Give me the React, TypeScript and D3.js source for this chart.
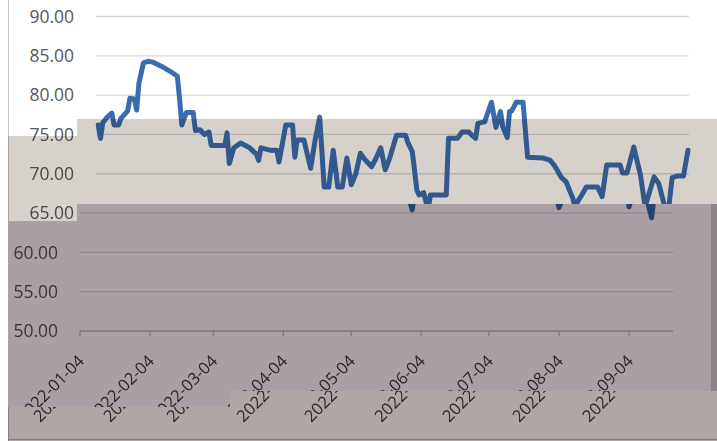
import React from "react";
import * as d3 from "d3";

// ---- data ----
const dates: string[] = [
  "2022-01-05","2022-01-06","2022-01-07","2022-01-09","2022-01-11","2022-01-12","2022-01-14","2022-01-15","2022-01-18","2022-01-19","2022-01-21","2022-01-22","2022-01-23","2022-01-25","2022-01-27","2022-01-29",
  "2022-02-03","2022-02-06","2022-02-09","2022-02-10","2022-02-11","2022-02-13","2022-02-16","2022-02-17","2022-02-19","2022-02-21","2022-02-23","2022-02-24",
  "2022-03-02","2022-03-03","2022-03-04","2022-03-06","2022-03-09","2022-03-13","2022-03-16","2022-03-17","2022-03-18","2022-03-22","2022-03-25","2022-03-26","2022-03-29",
  "2022-04-01","2022-04-02","2022-04-03","2022-04-06","2022-04-09","2022-04-11","2022-04-13","2022-04-15","2022-04-17","2022-04-19","2022-04-21","2022-04-23","2022-04-25","2022-04-27","2022-04-29",
  "2022-05-01","2022-05-03","2022-05-06","2022-05-08","2022-05-10","2022-05-12","2022-05-14","2022-05-17","2022-05-21","2022-05-22","2022-05-24","2022-05-26","2022-05-27","2022-05-29","2022-05-31",
  "2022-06-01","2022-06-08","2022-06-09","2022-06-13","2022-06-15","2022-06-18","2022-06-19","2022-06-21","2022-06-22","2022-06-25","2022-06-28","2022-06-30",
  "2022-07-02","2022-07-03","2022-07-05","2022-07-06","2022-07-07","2022-07-09","2022-07-12","2022-07-14","2022-07-21","2022-07-24","2022-07-26","2022-07-27","2022-07-29","2022-07-31",
  "2022-08-01","2022-08-03","2022-08-04","2022-08-05","2022-08-07","2022-08-09","2022-08-14","2022-08-16","2022-08-18","2022-08-24","2022-08-25","2022-08-27","2022-08-30",
  "2022-09-02","2022-09-04","2022-09-08","2022-09-10","2022-09-12","2022-09-14","2022-09-15","2022-09-16","2022-09-18","2022-09-21","2022-09-23",
];
const values: number[] = [
  76.2,74.5,76.5,77.2,77.7,76.2,76.2,77.0,78.0,79.6,79.5,78.1,81.5,84.1,84.3,84.2,
  83.5,83.0,82.4,79.5,76.2,77.8,77.8,75.5,75.6,75.0,75.3,73.6,
  73.6,75.2,71.3,73.3,73.9,73.3,72.5,71.7,73.3,73.0,73.0,71.5,76.2,
  76.2,72.1,74.3,74.3,70.7,74.3,77.2,68.3,68.3,73.0,68.3,68.3,72.0,68.6,70.0,
  72.6,71.8,70.9,72.0,73.3,70.5,72.0,74.9,74.9,74.0,72.8,67.9,67.3,67.6,65.4,
  67.3,67.3,74.5,74.5,75.3,75.3,75.0,74.5,76.4,76.6,79.1,75.9,
  77.9,76.0,74.6,77.9,78.0,79.1,79.1,72.1,72.0,71.7,71.0,70.5,69.5,69.0,
  68.3,66.9,65.7,66.4,67.3,68.3,68.3,67.1,71.1,71.1,70.1,70.1,73.4,
  69.8,65.8,69.6,68.8,66.6,64.4,67.0,69.5,69.7,69.7,73.0,
];
const yTicks: number[] = [50, 55, 60, 65, 70, 75, 80, 85, 90];
const xTickLabels: string[] = [
  "2022-01-04","2022-02-04","2022-03-04","2022-04-04","2022-05-04",
  "2022-06-04","2022-07-04","2022-08-04","2022-09-04",
];
const xStart = "2022-01-04";
const xEnd = "2022-09-23";

const W = 717;
const H = 441;
const FONT = "'Open Sans', 'Noto Sans', sans-serif";

const parse = d3.timeParse("%Y-%m-%d");
const x = d3.scaleTime().domain([parse(xStart)!, parse(xEnd)!]).range([96, 688]);
const y = d3.scaleLinear().domain([50, 90]).range([331, 16.5]);

const lineGen = d3
  .line<[Date, number]>()
  .x((d) => x(d[0]))
  .y((d) => y(d[1]));
const series: [Date, number][] = dates.map((d, i) => [parse(d)!, values[i]]);
const pathD = lineGen(series) || "";

function Content({ dx, yl, xl }: { dx: number; yl: number[]; xl: boolean }) {
  const [x0, x1] = x.range();
  const axisY = y(50);
  return (
    <g transform={`translate(${dx},0)`}>
      <line x1={8.5} x2={8.5} y1={0} y2={H} stroke="#c8c8c8" />
      <line x1={8} x2={W + 20} y1={439.5} y2={439.5} stroke="#bfbfbf" />
      {yTicks.filter((t) => t !== 50).map((t) => (
        <line key={"g" + t} x1={x0} x2={x1 + 1} y1={y(t)} y2={y(t)} stroke="#d9d9d9" strokeWidth={1.3} />
      ))}
      {yTicks.filter((t) => yl.includes(t)).map((t) => (
        <text key={"yl" + t} x={74} y={y(t)} dy="0.36em" textAnchor="end"
          fontFamily={FONT} fontSize={17.5} fill="#595959">
          {t.toFixed(2)}
        </text>
      ))}
      <line x1={x0} x2={x1 + 1} y1={axisY} y2={axisY} stroke="#bfbfbf" strokeWidth={1.3} />
      {xTickLabels.map((s) => {
        const tx = x(parse(s)!);
        return (
          <g key={"xt" + s}>
            <line x1={tx} x2={tx} y1={axisY} y2={axisY + 5} stroke="#bfbfbf" strokeWidth={1.3} />
            {xl && (
              <text transform={`translate(${tx + 1},${axisY + 27}) rotate(-45)`} textAnchor="end"
                dy="0.35em" fontFamily={FONT} fontSize={16.5} fill="#404040">
                {s}
              </text>
            )}
          </g>
        );
      })}
      <path d={pathD} fill="none" stroke="#3a6cb0" strokeWidth={5} strokeLinejoin="round" strokeLinecap="round" />
    </g>
  );
}

function Layer({ id, dx, tint, yl, xl, children }: any) {
  return (
    <g clipPath={`url(#${id})`}>
      <g style={{ isolation: "isolate" }}>
        <rect x={0} y={0} width={W} height={H} fill="#fff" />
        <Content dx={dx} yl={yl} xl={xl} />
        {tint && <rect x={0} y={0} width={W} height={H} fill={tint} style={{ mixBlendMode: "multiply" }} />}
        {children}
      </g>
    </g>
  );
}

export default function App() {
  const regionT = "M0,0H717V119H77V136H8V441H0Z";
  const regionA = "M77,119H717V204H77Z M8,136H77V221H8Z";
  const regionB = "M77,204H717V391H230V407H8V221H77Z";
  const regionC = "M8,407H230V391H717V441H8Z";
  return (
    <svg width={W} height={H} style={{ position: "absolute", left: 0, top: 0, background: "#fff" }}>
      <defs>
        <clipPath id="clipT"><path d={regionT} /></clipPath>
        <clipPath id="clipA"><path d={regionA} /></clipPath>
        <clipPath id="clipB"><path d={regionB} /></clipPath>
        <clipPath id="clipC"><path d={regionC} /></clipPath>
      </defs>
      <Layer id="clipT" dx={0} tint={null} yl={[75, 80, 85, 90]} xl={false} />
      <Layer id="clipA" dx={0} tint="#d7d1cc" yl={[65, 70, 75]} xl={false} />
      <Layer id="clipB" dx={-16} tint="#a99fa4" yl={[50, 55, 60]} xl={true}>
        <rect x={711} y={204} width={6} height={187} fill="#8c8287" />
      </Layer>
      <Layer id="clipC" dx={0} tint="#b0a6a5" yl={[]} xl={true} />
    </svg>
  );
}
